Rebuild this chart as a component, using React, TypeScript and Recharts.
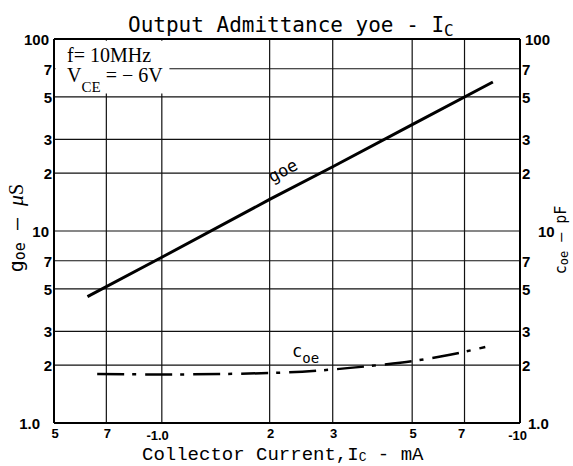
import { LineChart, Line, XAxis, YAxis, CartesianGrid, ReferenceArea, ReferenceLine } from "recharts";

// collector current axis (mA, shown as negative values on the sheet)
const xTicks = [0.5, 0.7, 1, 2, 3, 5, 7, 10];
const xTickLabels = ["5", "7", "-1.0", "2", "3", "5", "7", "-10"];

// admittance / capacitance axes (same decades on both sides)
const yTicks = [1, 2, 3, 5, 7, 10, 20, 30, 50, 70, 100];
const yTickLabels = ["1.0", "2", "3", "5", "7", "10", "2", "3", "5", "7", "100"];

// g_oe (uS) vs Ic
const goeCurrent = [0.62, 1.0, 2, 3, 5, 8.4];
const goeValues = [4.55, 7.3, 14.6, 21.6, 35.8, 59.7];

// c_oe (pF) vs Ic
const coeCurrent = [0.66, 1.0, 2, 3, 4, 5, 6, 7, 8];
const coeValues = [1.8, 1.79, 1.82, 1.9, 2.0, 2.1, 2.22, 2.35, 2.49];

const goeData = goeCurrent.map((ic, i) => ({ ic, goe: goeValues[i] }));
const coeData = coeCurrent.map((ic, i) => ({ ic, coe: coeValues[i] }));

const W = 573;
const H = 466;

const tickFont = "'Liberation Sans', Arial, sans-serif";
const monoFont = "'DejaVu Sans Mono', monospace";

function labelOf(ticks: number[], labels: string[], v: number) {
  const i = ticks.findIndex((t) => Math.abs(t - v) < 1e-6);
  return i >= 0 ? labels[i] : String(v);
}

function XTick(props: any) {
  const { x, y, payload } = props;
  const label = labelOf(xTicks, xTickLabels, payload.value);
  const neg = label.startsWith("-");
  return (
    <text
      x={neg ? x + 7 : x + (label === "7" && payload.value > 5 ? -3 : 1)}
      y={y + (neg ? 17 : 15)}
      textAnchor={neg ? "end" : "middle"}
      fontFamily={tickFont}
      fontWeight="bold"
      fontSize={13}
      fill="#000"
    >
      {label}
    </text>
  );
}

function LeftTick(props: any) {
  const { x, y, payload } = props;
  const label = labelOf(yTicks, yTickLabels, payload.value);
  let dx = -2;
  if (label === "10" || label === "100") dx = -5;
  if (label === "1.0") dx = -14;
  return (
    <text x={x + dx} y={y + 6} textAnchor="end" fontFamily={tickFont} fontWeight="bold" fontSize={15} fill="#000">
      {label}
    </text>
  );
}

function RightTick(props: any) {
  const { x, y, payload } = props;
  const label = labelOf(yTicks, yTickLabels, payload.value);
  let dx = 2;
  if (label === "100") dx = 5;
  if (label === "10") dx = 18;
  if (label === "1.0") dx = 8;
  return (
    <text x={x + dx} y={y + 6} textAnchor="start" fontFamily={tickFont} fontWeight="bold" fontSize={15} fill="#000">
      {label}
    </text>
  );
}

export default function App() {
  return (
    <div style={{ position: "absolute", left: 0, top: 0, width: W, height: H, background: "#fff" }}>
      <LineChart width={W} height={H} margin={{ top: 39, right: 0, bottom: 0, left: 0 }}>
        <CartesianGrid yAxisId="left" stroke="#111" strokeWidth={1.2} />
        <XAxis
          dataKey="ic"
          type="number"
          scale="log"
          domain={[0.5, 10]}
          ticks={xTicks}
          allowDataOverflow
          height={43}
          tickLine={false}
          tickSize={0}
          tickMargin={0}
          axisLine={{ stroke: "#000", strokeWidth: 2 }}
          tick={<XTick />}
        />
        <YAxis
          yAxisId="left"
          type="number"
          scale="log"
          domain={[1, 100]}
          ticks={yTicks}
          allowDataOverflow
          width={54}
          tickLine={false}
          tickSize={0}
          tickMargin={0}
          axisLine={{ stroke: "#000", strokeWidth: 2 }}
          tick={<LeftTick />}
        />
        <YAxis
          yAxisId="right"
          orientation="right"
          type="number"
          scale="log"
          domain={[1, 100]}
          ticks={yTicks}
          allowDataOverflow
          width={53}
          tickLine={false}
          tickSize={0}
          tickMargin={0}
          axisLine={{ stroke: "#000", strokeWidth: 2 }}
          tick={<RightTick />}
        />
        <ReferenceArea yAxisId="left" x1={0.505} x2={1.05} y1={52} y2={98} fill="#fff" fillOpacity={1} stroke="none" />
        <ReferenceLine yAxisId="left" y={100} stroke="#000" strokeWidth={2} />
        <Line
          yAxisId="left"
          data={goeData}
          dataKey="goe"
          type="linear"
          stroke="#000"
          strokeWidth={3}
          dot={false}
          isAnimationActive={false}
        />
        <Line
          yAxisId="right"
          data={coeData}
          dataKey="coe"
          type="monotone"
          stroke="#000"
          strokeWidth={2.5}
          strokeDasharray="27 8 4 9"
          dot={false}
          isAnimationActive={false}
        />
      </LineChart>
      <svg width={W} height={H} style={{ position: "absolute", left: 0, top: 0, pointerEvents: "none" }}>
        <text x={128} y={32} fontFamily={monoFont} fontSize={21} fill="#000">
          Output Admittance yoe - I
          <tspan fontSize={16} dy={4}>C</tspan>
        </text>
        <text x={142} y={460} fontFamily="'Liberation Mono', monospace" fontSize={19} fill="#000">
          Collector Current,I
          <tspan fontSize={13} dy={1}>C</tspan>
          <tspan dy={-1}> - mA</tspan>
        </text>
        <text x={67} y={62} fontFamily="'Liberation Serif', serif" fontSize={20} fill="#000">
          f= 10MHz
        </text>
        <text x={67} y={82} fontFamily="'Liberation Serif', serif" fontSize={20} fill="#000">
          V<tspan fontSize={15} dy={10}>CE</tspan>
          <tspan dy={-10}> = − 6V</tspan>
        </text>
        <text
          transform="translate(23 228) rotate(-90)"
          textAnchor="middle"
          fontFamily={monoFont}
          fontSize={20}
          fill="#000"
        >
          g<tspan fontSize={15} dy={2}>oe</tspan>
          <tspan dy={-2}>{"   —   "}</tspan>
          <tspan fontFamily="'Liberation Serif', serif" fontStyle="italic" fontSize={22}>μ</tspan>
          <tspan fontFamily="'Liberation Serif', serif" fontSize={20}>S</tspan>
        </text>
        <text
          transform="translate(566 240) rotate(-90)"
          textAnchor="middle"
          fontFamily={monoFont}
          fontSize={15}
          fill="#000"
        >
          c<tspan fontSize={12} dy={2}>oe</tspan>
          <tspan dy={-2}>{"  —  pF"}</tspan>
        </text>
        <text transform="translate(272 183) rotate(-28)" fontFamily={monoFont} fontSize={17} fill="#000">
          goe
        </text>
        <text x={292} y={357} fontFamily={monoFont} fontSize={17} fill="#000">
          c<tspan fontSize={14} dy={6}>oe</tspan>
        </text>
      </svg>
    </div>
  );
}
